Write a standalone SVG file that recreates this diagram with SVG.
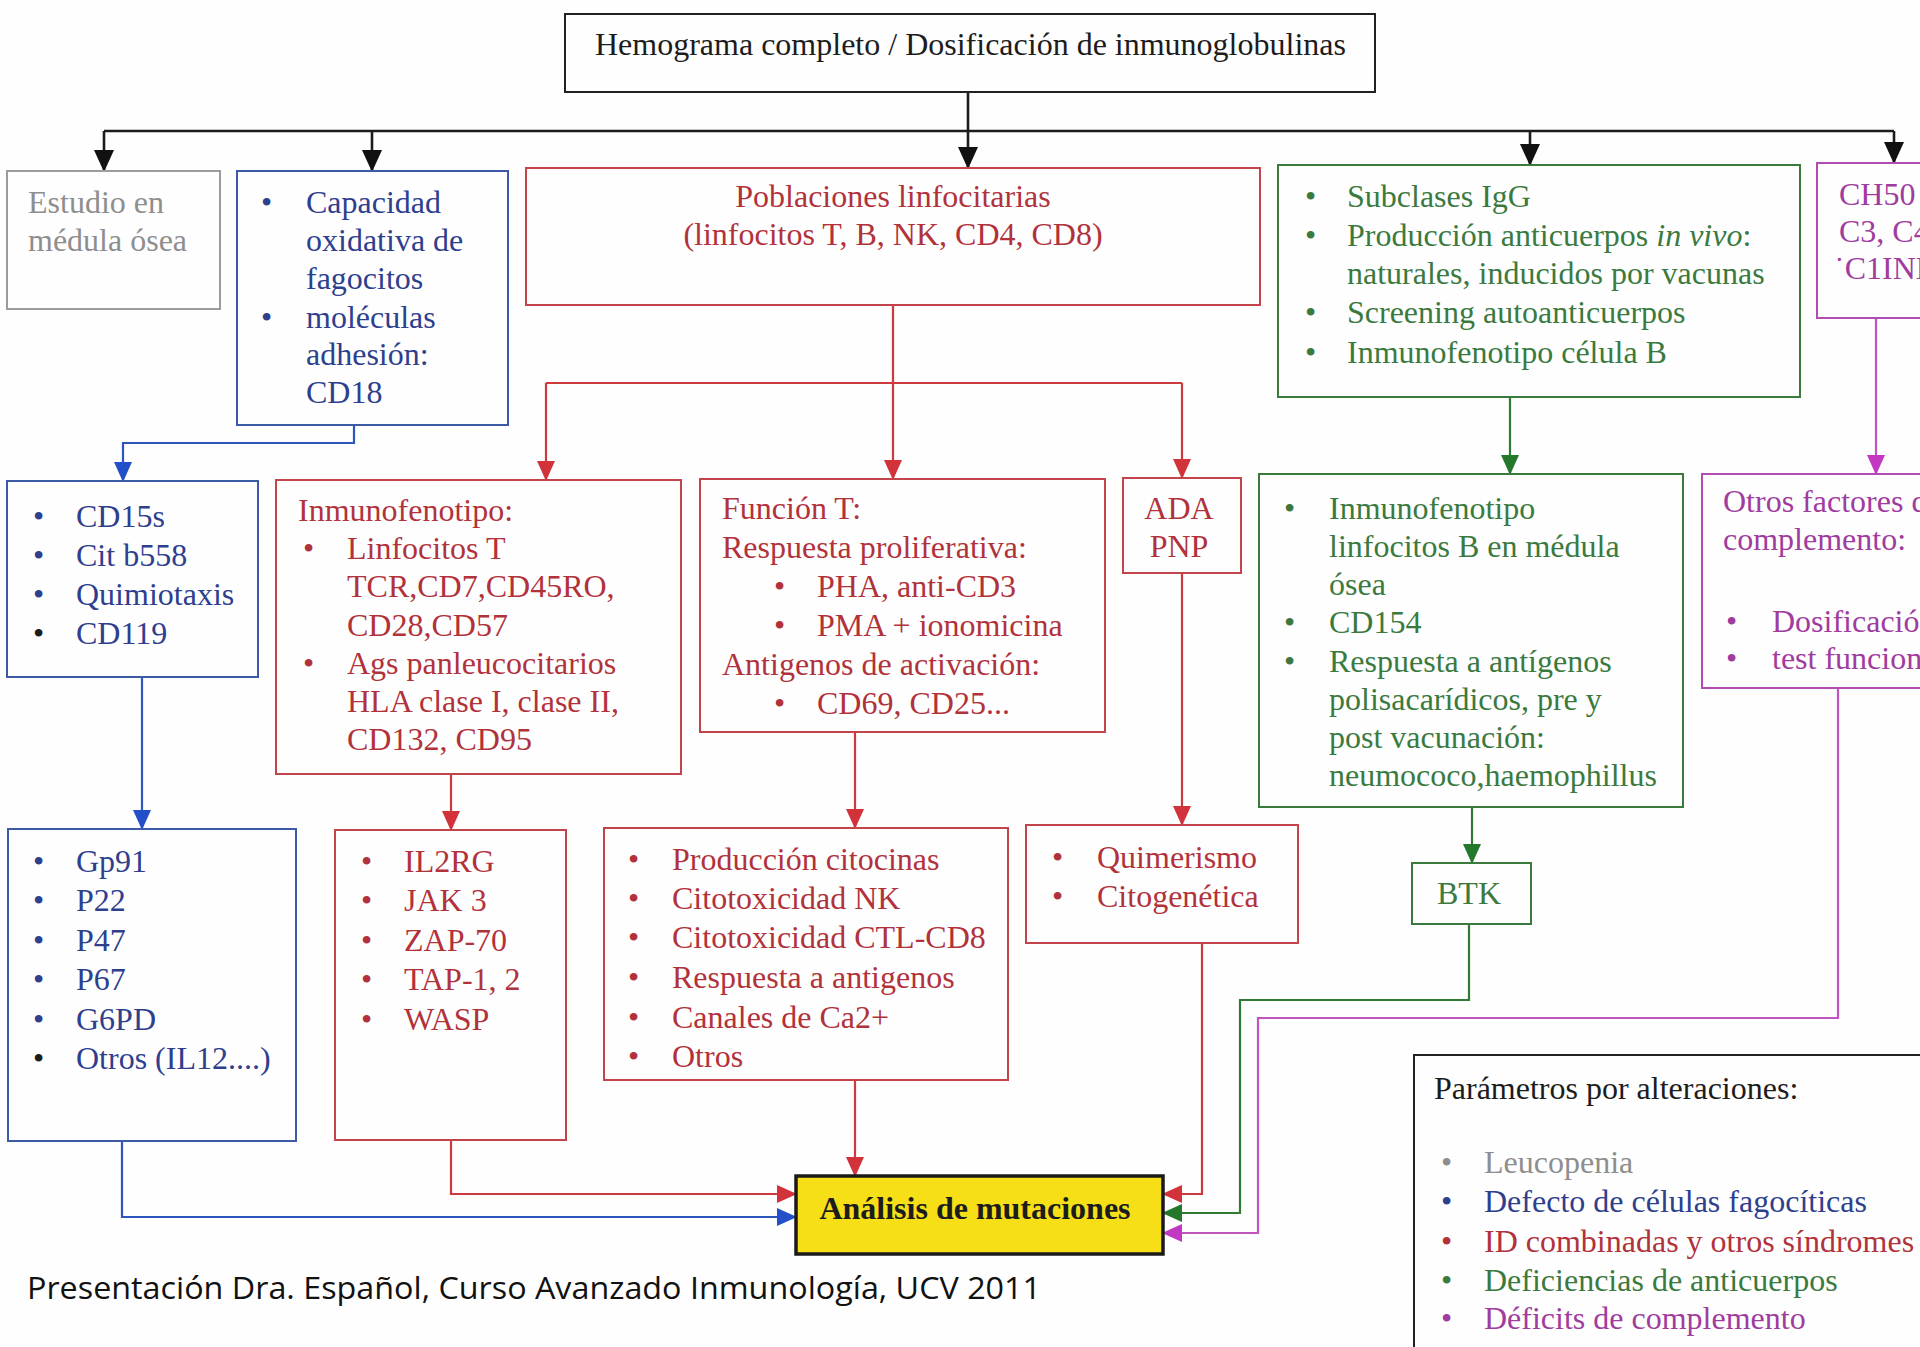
<svg xmlns="http://www.w3.org/2000/svg" width="1920" height="1347" viewBox="0 0 1920 1347">
  <defs>
    <style>
      text { font-family: "Liberation Serif", "Times New Roman", serif; font-size: 32px; }
      .foot { font-family: "Open Sans", "Liberation Sans", sans-serif; font-size: 31px; fill: #111; }
      .box { fill: none; stroke-width: 2; }
      .bk-s { stroke: #222; }
      .gy-s { stroke: #9c9c9c; }
      .bl-s { stroke: #3d5aa6; }
      .rd-s { stroke: #c4444c; }
      .gn-s { stroke: #3a7a3c; }
      .pu-s { stroke: #b24cb2; }
      .gy { fill: #8e8e8e; }
      .bl { fill: #2e3f8e; }
      .rd { fill: #b2323b; }
      .gn { fill: #3b7a3e; }
      .pu { fill: #a03c9e; }
      .bk { fill: #1c1c1c; }
      .mid { text-anchor: middle; }
      .ln { fill: none; stroke-width: 2.2; }
      .ln-k { stroke: #1c1c1c; stroke-width: 2.6; }
      .ln-b { stroke: #2c55be; }
      .ln-r { stroke: #cc3a3e; }
      .ln-g { stroke: #2f7a34; }
      .ln-p { stroke: #c055c0; }
    </style>
    <marker id="ah-k" markerUnits="userSpaceOnUse" markerWidth="22" markerHeight="20" refX="21" refY="10" orient="auto">
      <path d="M0,0 L22,10 L0,20 z" fill="#111"/>
    </marker>
    <marker id="ah-b" markerUnits="userSpaceOnUse" markerWidth="20" markerHeight="18" refX="19" refY="9" orient="auto">
      <path d="M0,0 L20,9 L0,18 z" fill="#2350c8"/>
    </marker>
    <marker id="ah-r" markerUnits="userSpaceOnUse" markerWidth="20" markerHeight="18" refX="19" refY="9" orient="auto">
      <path d="M0,0 L20,9 L0,18 z" fill="#d2323a"/>
    </marker>
    <marker id="ah-g" markerUnits="userSpaceOnUse" markerWidth="20" markerHeight="18" refX="19" refY="9" orient="auto">
      <path d="M0,0 L20,9 L0,18 z" fill="#24782c"/>
    </marker>
    <marker id="ah-p" markerUnits="userSpaceOnUse" markerWidth="20" markerHeight="18" refX="19" refY="9" orient="auto">
      <path d="M0,0 L20,9 L0,18 z" fill="#c238c2"/>
    </marker>
  </defs>

  <rect width="1920" height="1347" fill="#fefefe"/>

  <!-- connectors -->
  <g id="connectors">
    <!-- black trunk and top-level branches -->
    <path class="ln ln-k" d="M968,92 V131"/>
    <path class="ln ln-k" d="M104,131 H1894"/>
    <path class="ln ln-k" d="M104,131 V171" marker-end="url(#ah-k)"/>
    <path class="ln ln-k" d="M372,131 V171" marker-end="url(#ah-k)"/>
    <path class="ln ln-k" d="M968,131 V168" marker-end="url(#ah-k)"/>
    <path class="ln ln-k" d="M1530,131 V165" marker-end="url(#ah-k)"/>
    <path class="ln ln-k" d="M1894,131 V163" marker-end="url(#ah-k)"/>

    <!-- blue: phagocyte branch -->
    <path class="ln ln-b" d="M354,425 V443 H123 V481" marker-end="url(#ah-b)"/>
    <path class="ln ln-b" d="M142,677 V829" marker-end="url(#ah-b)"/>
    <path class="ln ln-b" d="M122,1141 V1217 H796" marker-end="url(#ah-b)"/>

    <!-- red: lymphocyte branch -->
    <path class="ln ln-r" d="M893,305 V479" marker-end="url(#ah-r)"/>
    <path class="ln ln-r" d="M546,383 H1182"/>
    <path class="ln ln-r" d="M546,383 V480" marker-end="url(#ah-r)"/>
    <path class="ln ln-r" d="M1182,383 V478" marker-end="url(#ah-r)"/>
    <path class="ln ln-r" d="M451,774 V830" marker-end="url(#ah-r)"/>
    <path class="ln ln-r" d="M451,1140 V1194 H796" marker-end="url(#ah-r)"/>
    <path class="ln ln-r" d="M855,732 V828" marker-end="url(#ah-r)"/>
    <path class="ln ln-r" d="M855,1080 V1176" marker-end="url(#ah-r)"/>
    <path class="ln ln-r" d="M1182,573 V825" marker-end="url(#ah-r)"/>
    <path class="ln ln-r" d="M1202,943 V1194 H1163" marker-end="url(#ah-r)"/>

    <!-- green: antibody branch -->
    <path class="ln ln-g" d="M1510,397 V474" marker-end="url(#ah-g)"/>
    <path class="ln ln-g" d="M1472,807 V863" marker-end="url(#ah-g)"/>
    <path class="ln ln-g" d="M1469,924 V1000 H1240 V1213 H1163" marker-end="url(#ah-g)"/>

    <!-- purple: complement branch -->
    <path class="ln ln-p" d="M1876,318 V474" marker-end="url(#ah-p)"/>
    <path class="ln ln-p" d="M1838,688 V1018 H1258 V1233 H1163" marker-end="url(#ah-p)"/>
  </g>

  <!-- top node -->
  <g id="hemograma">
    <rect class="box bk-s" x="565" y="14" width="810" height="78" stroke-width="2.4"/>
    <text class="bk" x="595" y="55">Hemograma completo / Dosificación de inmunoglobulinas</text>
  </g>

  <!-- first row -->
  <g id="medula">
    <rect class="box gy-s" x="7" y="171" width="213" height="138"/>
    <text class="gy" x="28" y="213">Estudio en</text>
    <text class="gy" x="28" y="251">médula ósea</text>
  </g>

  <g id="capacidad-oxidativa">
    <rect class="box bl-s" x="237" y="171" width="271" height="254"/>
    <text class="bl" x="261" y="213">•</text>
    <text class="bl" x="306" y="213">Capacidad</text>
    <text class="bl" x="306" y="251">oxidativa de</text>
    <text class="bl" x="306" y="289">fagocitos</text>
    <text class="bl" x="261" y="328">•</text>
    <text class="bl" x="306" y="328">moléculas</text>
    <text class="bl" x="306" y="365">adhesión:</text>
    <text class="bl" x="306" y="403">CD18</text>
  </g>

  <g id="poblaciones">
    <rect class="box rd-s" x="526" y="168" width="734" height="137"/>
    <text class="rd mid" x="893" y="207">Poblaciones linfocitarias</text>
    <text class="rd mid" x="893" y="245">(linfocitos T, B, NK, CD4, CD8)</text>
  </g>

  <g id="subclases">
    <rect class="box gn-s" x="1278" y="165" width="522" height="232"/>
    <text class="gn" x="1305" y="207">•</text>
    <text class="gn" x="1347" y="207">Subclases IgG</text>
    <text class="gn" x="1305" y="246">•</text>
    <text class="gn" x="1347" y="246">Producción anticuerpos <tspan font-style="italic">in vivo</tspan>:</text>
    <text class="gn" x="1347" y="284">naturales, inducidos por vacunas</text>
    <text class="gn" x="1305" y="323">•</text>
    <text class="gn" x="1347" y="323">Screening autoanticuerpos</text>
    <text class="gn" x="1305" y="363">•</text>
    <text class="gn" x="1347" y="363">Inmunofenotipo célula B</text>
  </g>

  <g id="ch50">
    <rect class="box pu-s" x="1817" y="163" width="130" height="155"/>
    <text class="pu" x="1839" y="205">CH50</text>
    <text class="pu" x="1839" y="242">C3, C4</text>
    <text class="pu" x="1834" y="279">˙C1INH</text>
  </g>

  <!-- second row -->
  <g id="cd15s">
    <rect class="box bl-s" x="7" y="481" width="251" height="196"/>
    <text class="bl" x="33" y="527">•</text>
    <text class="bl" x="76" y="527">CD15s</text>
    <text class="bl" x="33" y="566">•</text>
    <text class="bl" x="76" y="566">Cit b558</text>
    <text class="bl" x="33" y="605">•</text>
    <text class="bl" x="76" y="605">Quimiotaxis</text>
    <text class="bk" x="33" y="644">•</text>
    <text class="bl" x="76" y="644">CD119</text>
  </g>

  <g id="inmunofenotipo">
    <rect class="box rd-s" x="276" y="480" width="405" height="294"/>
    <text class="rd" x="298" y="521">Inmunofenotipo:</text>
    <text class="rd" x="303" y="559">•</text>
    <text class="rd" x="347" y="559">Linfocitos T</text>
    <text class="rd" x="347" y="597">TCR,CD7,CD45RO,</text>
    <text class="rd" x="347" y="636">CD28,CD57</text>
    <text class="rd" x="303" y="674">•</text>
    <text class="rd" x="347" y="674">Ags panleucocitarios</text>
    <text class="rd" x="347" y="712">HLA clase I, clase II,</text>
    <text class="rd" x="347" y="750">CD132, CD95</text>
  </g>

  <g id="funcion-t">
    <rect class="box rd-s" x="700" y="479" width="405" height="253"/>
    <text class="rd" x="722" y="519">Función T:</text>
    <text class="rd" x="722" y="558">Respuesta proliferativa:</text>
    <text class="rd" x="774" y="597">•</text>
    <text class="rd" x="817" y="597">PHA, anti-CD3</text>
    <text class="rd" x="774" y="636">•</text>
    <text class="rd" x="817" y="636">PMA + ionomicina</text>
    <text class="rd" x="722" y="675">Antigenos de activación:</text>
    <text class="rd" x="774" y="714">•</text>
    <text class="rd" x="817" y="714">CD69, CD25...</text>
  </g>

  <g id="ada-pnp">
    <rect class="box rd-s" x="1123" y="478" width="118" height="95"/>
    <text class="rd mid" x="1179" y="519">ADA</text>
    <text class="rd mid" x="1179" y="557">PNP</text>
  </g>

  <g id="linfocitos-b">
    <rect class="box gn-s" x="1259" y="474" width="424" height="333"/>
    <text class="gn" x="1284" y="519">•</text>
    <text class="gn" x="1329" y="519">Inmunofenotipo</text>
    <text class="gn" x="1329" y="557">linfocitos B en médula</text>
    <text class="gn" x="1329" y="595">ósea</text>
    <text class="gn" x="1284" y="633">•</text>
    <text class="gn" x="1329" y="633">CD154</text>
    <text class="gn" x="1284" y="672">•</text>
    <text class="gn" x="1329" y="672">Respuesta a antígenos</text>
    <text class="gn" x="1329" y="710">polisacarídicos, pre y</text>
    <text class="gn" x="1329" y="748">post vacunación:</text>
    <text class="gn" x="1329" y="786">neumococo,haemophillus</text>
  </g>

  <g id="otros-factores">
    <rect class="box pu-s" x="1702" y="474" width="245" height="214"/>
    <text class="pu" x="1723" y="512">Otros factores de</text>
    <text class="pu" x="1723" y="550">complemento:</text>
    <text class="pu" x="1726" y="632">•</text>
    <text class="pu" x="1772" y="632">Dosificación</text>
    <text class="pu" x="1726" y="669">•</text>
    <text class="pu" x="1772" y="669">test funcionales</text>
  </g>

  <!-- third row -->
  <g id="gp91">
    <rect class="box bl-s" x="8" y="829" width="288" height="312"/>
    <text class="bl" x="33" y="872">•</text>
    <text class="bl" x="76" y="872">Gp91</text>
    <text class="bl" x="33" y="911">•</text>
    <text class="bl" x="76" y="911">P22</text>
    <text class="bl" x="33" y="951">•</text>
    <text class="bl" x="76" y="951">P47</text>
    <text class="bl" x="33" y="990">•</text>
    <text class="bl" x="76" y="990">P67</text>
    <text class="bl" x="33" y="1030">•</text>
    <text class="bl" x="76" y="1030">G6PD</text>
    <text class="bk" x="33" y="1069">•</text>
    <text class="bl" x="76" y="1069">Otros (IL12....)</text>
  </g>

  <g id="il2rg">
    <rect class="box rd-s" x="335" y="830" width="231" height="310"/>
    <text class="rd" x="361" y="872">•</text>
    <text class="rd" x="404" y="872">IL2RG</text>
    <text class="rd" x="361" y="911">•</text>
    <text class="rd" x="404" y="911">JAK 3</text>
    <text class="rd" x="361" y="951">•</text>
    <text class="rd" x="404" y="951">ZAP-70</text>
    <text class="rd" x="361" y="990">•</text>
    <text class="rd" x="404" y="990">TAP-1, 2</text>
    <text class="rd" x="361" y="1030">•</text>
    <text class="rd" x="404" y="1030">WASP</text>
  </g>

  <g id="produccion-citocinas">
    <rect class="box rd-s" x="604" y="828" width="404" height="252"/>
    <text class="rd" x="628" y="870">•</text>
    <text class="rd" x="672" y="870">Producción citocinas</text>
    <text class="rd" x="628" y="909">•</text>
    <text class="rd" x="672" y="909">Citotoxicidad NK</text>
    <text class="rd" x="628" y="948">•</text>
    <text class="rd" x="672" y="948">Citotoxicidad CTL-CD8</text>
    <text class="rd" x="628" y="988">•</text>
    <text class="rd" x="672" y="988">Respuesta a antigenos</text>
    <text class="rd" x="628" y="1028">•</text>
    <text class="rd" x="672" y="1028">Canales de Ca2+</text>
    <text class="rd" x="628" y="1067">•</text>
    <text class="rd" x="672" y="1067">Otros</text>
  </g>

  <g id="quimerismo">
    <rect class="box rd-s" x="1026" y="825" width="272" height="118"/>
    <text class="rd" x="1052" y="868">•</text>
    <text class="rd" x="1097" y="868">Quimerismo</text>
    <text class="rd" x="1052" y="907">•</text>
    <text class="rd" x="1097" y="907">Citogenética</text>
  </g>

  <g id="btk">
    <rect class="box gn-s" x="1412" y="863" width="119" height="61"/>
    <text class="gn mid" x="1469" y="904">BTK</text>
  </g>

  <!-- final node -->
  <g id="analisis-mutaciones">
    <rect x="796" y="1176" width="367" height="78" fill="#f6df17" stroke="#1a1a1a" stroke-width="3.5"/>
    <text class="bk mid" x="975" y="1219" font-weight="bold">Análisis de mutaciones</text>
  </g>

  <!-- colour key -->
  <g id="leyenda">
    <rect class="box bk-s" x="1414" y="1055" width="540" height="320" stroke-width="2.4"/>
    <text class="bk" x="1434" y="1099">Parámetros por alteraciones:</text>
    <text class="gy" x="1441" y="1173">•</text>
    <text class="gy" x="1484" y="1173">Leucopenia</text>
    <text class="bl" x="1441" y="1212">•</text>
    <text class="bl" x="1484" y="1212">Defecto de células fagocíticas</text>
    <text class="rd" x="1441" y="1252">•</text>
    <text class="rd" x="1484" y="1252">ID combinadas y otros síndromes</text>
    <text class="gn" x="1441" y="1291">•</text>
    <text class="gn" x="1484" y="1291">Deficiencias de anticuerpos</text>
    <text class="pu" x="1441" y="1329">•</text>
    <text class="pu" x="1484" y="1329">Déficits de complemento</text>
  </g>

  <text class="foot" x="27" y="1299" textLength="1014" lengthAdjust="spacingAndGlyphs">Presentación Dra. Español, Curso Avanzado Inmunología, UCV 2011</text>
</svg>
